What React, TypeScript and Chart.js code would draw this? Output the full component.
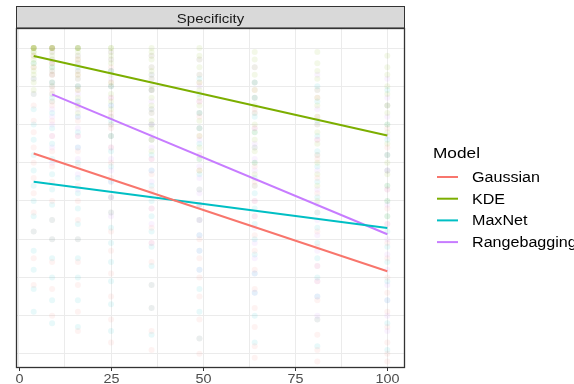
import React, { useEffect, useRef } from 'react';
import { Chart, registerables } from 'chart.js';
Chart.register(...registerables);

const FONT = "'Liberation Sans', Arial, Helvetica, sans-serif";
const TEXT_STRETCH = 1.15;

const models = ['Gaussian', 'KDE', 'MaxNet', 'Rangebagging'];
const modelColors = ['#F8766D', '#7CAE00', '#00BFC4', '#C77CFF'];
const modelRgb = ['248,118,109', '124,174,0', '0,191,196', '199,124,255'];

const facetTitle = 'Specificity';
const legendTitle = 'Model';

const xColumns = [4, 9, 16, 25, 36, 49, 64, 81, 100];
const rangebaggingColumns = [9, 16, 25, 36, 49, 64, 81, 100];
const xGridValues = [0, 12.5, 25, 37.5, 50, 62.5, 75, 87.5, 100];
const xTickLabels = [0, 25, 50, 75, 100];
const yGridValues = [0.2, 0.3, 0.4, 0.5, 0.6, 0.7, 0.8, 0.9, 1.0];

const gaussianPoints = [
  [1, 0.98, 0.95, 0.92, 0.88, 0.85, 0.81, 0.78, 0.74, 0.7, 0.66, 0.62, 0.57, 0.52, 0.45, 0.38],
  [1, 0.96, 0.93, 0.89, 0.85, 0.81, 0.77, 0.73, 0.69, 0.65, 0.6, 0.55, 0.5, 0.44, 0.37, 0.3],
  [0.97, 0.93, 0.89, 0.85, 0.81, 0.77, 0.73, 0.69, 0.64, 0.6, 0.55, 0.5, 0.44, 0.38, 0.31, 0.26],
  [0.95, 0.91, 0.87, 0.83, 0.79, 0.74, 0.7, 0.66, 0.61, 0.57, 0.52, 0.47, 0.41, 0.35, 0.29, 0.23],
  [0.93, 0.89, 0.84, 0.8, 0.76, 0.71, 0.67, 0.63, 0.58, 0.53, 0.49, 0.44, 0.38, 0.32, 0.26, 0.21],
  [0.91, 0.86, 0.82, 0.77, 0.72, 0.68, 0.63, 0.59, 0.55, 0.5, 0.45, 0.4, 0.35, 0.29, 0.24, 0.2],
  [0.89, 0.84, 0.79, 0.74, 0.69, 0.65, 0.6, 0.56, 0.51, 0.47, 0.42, 0.37, 0.32, 0.27, 0.22, 0.19],
  [0.87, 0.82, 0.76, 0.71, 0.66, 0.62, 0.57, 0.52, 0.48, 0.43, 0.39, 0.34, 0.29, 0.25, 0.21, 0.18],
  [0.85, 0.79, 0.74, 0.68, 0.63, 0.58, 0.54, 0.49, 0.45, 0.4, 0.36, 0.31, 0.27, 0.23, 0.2, 0.18],
];
const kdePoints = [
  [1, 1, 1, 1, 1, 1, 0.99, 0.99, 0.98, 0.97, 0.96, 0.95, 0.94, 0.93, 0.91, 0.89],
  [1, 1, 1, 1, 1, 0.99, 0.98, 0.97, 0.96, 0.95, 0.94, 0.93, 0.91, 0.9, 0.88, 0.86],
  [1, 1, 1, 1, 0.99, 0.98, 0.97, 0.96, 0.94, 0.93, 0.92, 0.9, 0.89, 0.87, 0.85, 0.83],
  [1, 1, 0.99, 0.98, 0.97, 0.96, 0.94, 0.93, 0.91, 0.9, 0.88, 0.86, 0.84, 0.82, 0.8, 0.77],
  [1, 0.99, 0.98, 0.97, 0.95, 0.94, 0.92, 0.9, 0.89, 0.87, 0.85, 0.83, 0.81, 0.79, 0.76, 0.73],
  [1, 0.98, 0.97, 0.95, 0.93, 0.91, 0.89, 0.87, 0.85, 0.83, 0.81, 0.79, 0.77, 0.74, 0.71, 0.68],
  [0.99, 0.97, 0.95, 0.93, 0.91, 0.89, 0.87, 0.85, 0.83, 0.8, 0.78, 0.76, 0.73, 0.7, 0.67, 0.64],
  [0.99, 0.96, 0.94, 0.92, 0.89, 0.87, 0.85, 0.82, 0.8, 0.78, 0.75, 0.72, 0.7, 0.67, 0.64, 0.6],
  [0.98, 0.95, 0.93, 0.9, 0.88, 0.85, 0.83, 0.8, 0.78, 0.75, 0.72, 0.7, 0.67, 0.64, 0.6, 0.56],
];
const maxnetPoints = [
  [0.96, 0.92, 0.88, 0.84, 0.8, 0.76, 0.72, 0.68, 0.64, 0.6, 0.56, 0.52, 0.47, 0.42, 0.37, 0.31],
  [0.95, 0.91, 0.87, 0.83, 0.79, 0.75, 0.71, 0.67, 0.63, 0.59, 0.55, 0.5, 0.45, 0.4, 0.34, 0.28],
  [0.95, 0.9, 0.86, 0.82, 0.78, 0.74, 0.7, 0.66, 0.62, 0.58, 0.54, 0.5, 0.45, 0.4, 0.34, 0.27],
  [0.94, 0.9, 0.85, 0.81, 0.77, 0.73, 0.69, 0.65, 0.61, 0.57, 0.53, 0.49, 0.44, 0.39, 0.33, 0.26],
  [0.93, 0.89, 0.84, 0.8, 0.76, 0.72, 0.68, 0.64, 0.6, 0.56, 0.52, 0.48, 0.43, 0.38, 0.32, 0.25],
  [0.92, 0.88, 0.83, 0.79, 0.75, 0.71, 0.67, 0.63, 0.59, 0.55, 0.51, 0.47, 0.42, 0.37, 0.31, 0.24],
  [0.91, 0.87, 0.82, 0.78, 0.74, 0.7, 0.66, 0.62, 0.58, 0.54, 0.5, 0.46, 0.41, 0.36, 0.3, 0.23],
  [0.9, 0.86, 0.81, 0.77, 0.73, 0.69, 0.65, 0.61, 0.57, 0.53, 0.49, 0.45, 0.4, 0.35, 0.29, 0.22],
  [0.89, 0.85, 0.8, 0.76, 0.72, 0.68, 0.64, 0.6, 0.56, 0.52, 0.48, 0.44, 0.39, 0.34, 0.28, 0.21],
];
const rangebaggingPoints = [
  [1, 0.99, 0.97, 0.96, 0.94, 0.93, 0.91, 0.9, 0.88, 0.86, 0.84, 0.82, 0.8, 0.77, 0.74, 0.7],
  [1, 0.98, 0.96, 0.94, 0.92, 0.9, 0.88, 0.86, 0.84, 0.82, 0.79, 0.77, 0.74, 0.71, 0.67, 0.63],
  [0.99, 0.97, 0.94, 0.92, 0.9, 0.87, 0.85, 0.82, 0.8, 0.77, 0.74, 0.71, 0.68, 0.65, 0.61, 0.56],
  [0.98, 0.95, 0.92, 0.89, 0.86, 0.83, 0.8, 0.77, 0.74, 0.71, 0.68, 0.65, 0.62, 0.58, 0.54, 0.49],
  [0.97, 0.93, 0.9, 0.86, 0.83, 0.79, 0.76, 0.72, 0.69, 0.66, 0.62, 0.59, 0.55, 0.51, 0.47, 0.42],
  [0.95, 0.91, 0.87, 0.83, 0.79, 0.75, 0.71, 0.68, 0.64, 0.6, 0.56, 0.53, 0.49, 0.45, 0.41, 0.36],
  [0.93, 0.89, 0.84, 0.8, 0.76, 0.72, 0.68, 0.63, 0.59, 0.55, 0.51, 0.47, 0.43, 0.39, 0.35, 0.3],
  [0.92, 0.87, 0.82, 0.77, 0.72, 0.68, 0.63, 0.59, 0.54, 0.5, 0.46, 0.42, 0.38, 0.34, 0.3, 0.26],
];

// fitted trend lines: start and end of each model's fit
const gaussianLineX = [4, 100];
const gaussianLineY = [0.724, 0.416];
const kdeLineX = [4, 100];
const kdeLineY = [0.979, 0.771];
const maxnetLineX = [4, 100];
const maxnetLineY = [0.65, 0.529];
const rangebaggingLineX = [9, 100];
const rangebaggingLineY = [0.879, 0.513];

const pointSets = [
  { cols: xColumns, vals: gaussianPoints },
  { cols: xColumns, vals: kdePoints },
  { cols: xColumns, vals: maxnetPoints },
  { cols: rangebaggingColumns, vals: rangebaggingPoints },
];
const lineSets = [
  { xs: gaussianLineX, ys: gaussianLineY },
  { xs: kdeLineX, ys: kdeLineY },
  { xs: maxnetLineX, ys: maxnetLineY },
  { xs: rangebaggingLineX, ys: rangebaggingLineY },
];

function drawText(
  ctx: CanvasRenderingContext2D,
  text: string,
  x: number,
  y: number,
  size: number,
  color: string,
  align: CanvasTextAlign
) {
  ctx.save();
  ctx.translate(x, y);
  ctx.scale(TEXT_STRETCH, 1);
  ctx.font = `${size}px ${FONT}`;
  ctx.fillStyle = color;
  ctx.textAlign = align;
  ctx.textBaseline = 'alphabetic';
  ctx.fillText(text, 0, 0);
  ctx.restore();
}

const decorPlugin = {
  id: 'decor',
  afterDraw(chart: any) {
    const { ctx, chartArea } = chart;
    const { left, right, top, bottom } = chartArea;
    const xs = chart.scales.x;
    ctx.save();
    // strip
    const stripTop = 6.5;
    ctx.fillStyle = '#D9D9D9';
    ctx.fillRect(left, stripTop, right - left, top - stripTop);
    ctx.strokeStyle = '#333333';
    ctx.lineWidth = 1;
    ctx.strokeRect(left + 0.5, stripTop, right - left - 1, top - stripTop);
    drawText(ctx, facetTitle, (left + right) / 2, 23, 13, '#1A1A1A', 'center');
    // panel border
    ctx.strokeStyle = '#333333';
    ctx.lineWidth = 1.3;
    ctx.strokeRect(left + 0.5, top + 0.5, right - left - 1, bottom - top - 1);
    // x ticks + labels
    xTickLabels.forEach((v) => {
      const px = Math.round(xs.getPixelForValue(v)) + 0.5;
      ctx.strokeStyle = '#333333';
      ctx.lineWidth = 1;
      ctx.beginPath();
      ctx.moveTo(px, bottom);
      ctx.lineTo(px, bottom + 3);
      ctx.stroke();
      drawText(ctx, String(v), px, 383, 12.5, '#4D4D4D', 'center');
    });
    // legend
    drawText(ctx, legendTitle, 433, 158, 15, '#000000', 'left');
    models.forEach((m, i) => {
      const y = 177 + i * 21.7;
      ctx.strokeStyle = modelColors[i];
      ctx.lineWidth = 2;
      ctx.beginPath();
      ctx.moveTo(437, y);
      ctx.lineTo(458, y);
      ctx.stroke();
      drawText(ctx, m, 472, y + 5, 14, '#000000', 'left');
    });
    ctx.restore();
  },
};

export default function App() {
  const ref = useRef<HTMLCanvasElement | null>(null);
  useEffect(() => {
    document.body.style.margin = '0';
    const canvas = ref.current;
    if (!canvas) return;

    const datasets: any[] = [];
    lineSets.forEach((l, i) => {
      datasets.push({
        label: models[i] + ' fit',
        data: l.xs.map((x, j) => ({ x, y: l.ys[j] })),
        showLine: true,
        borderColor: modelColors[i],
        borderWidth: 2,
        pointRadius: 0,
        order: 0,
      });
    });
    pointSets.forEach((p, i) => {
      const data: any[] = [];
      p.cols.forEach((x, c) => p.vals[c].forEach((y) => data.push({ x, y })));
      datasets.push({
        label: models[i],
        data,
        showLine: false,
        pointRadius: 3,
        borderWidth: 0,
        backgroundColor: `rgba(${modelRgb[i]},0.09)`,
        order: 1,
      });
    });

    const chart = new Chart(canvas, {
      type: 'scatter',
      data: { datasets },
      options: {
        animation: false,
        responsive: false,
        devicePixelRatio: 1,
        layout: { padding: { left: 16, top: 28, right: 169, bottom: 0 } },
        plugins: { legend: { display: false }, tooltip: { enabled: false } },
        scales: {
          x: {
            type: 'linear',
            min: -0.8,
            max: 104.8,
            afterBuildTicks: (s: any) => {
              s.ticks = xGridValues.map((v) => ({ value: v }));
            },
            afterFit: (s: any) => {
              s.height = 16;
            },
            border: { display: false },
            grid: { color: '#EBEBEB', lineWidth: 1, drawTicks: false },
            ticks: { display: false },
          },
          y: {
            type: 'linear',
            min: 0.163,
            max: 1.0525,
            afterBuildTicks: (s: any) => {
              s.ticks = yGridValues.map((v) => ({ value: v }));
            },
            afterFit: (s: any) => {
              s.width = 0;
            },
            border: { display: false },
            grid: { color: '#EBEBEB', lineWidth: 1, drawTicks: false },
            ticks: { display: false },
          },
        },
      },
      plugins: [decorPlugin],
    });
    return () => chart.destroy();
  }, []);

  return (
    <div style={{ width: 574, height: 384, background: '#ffffff' }}>
      <canvas ref={ref} width={574} height={384} style={{ display: 'block' }} />
    </div>
  );
}
